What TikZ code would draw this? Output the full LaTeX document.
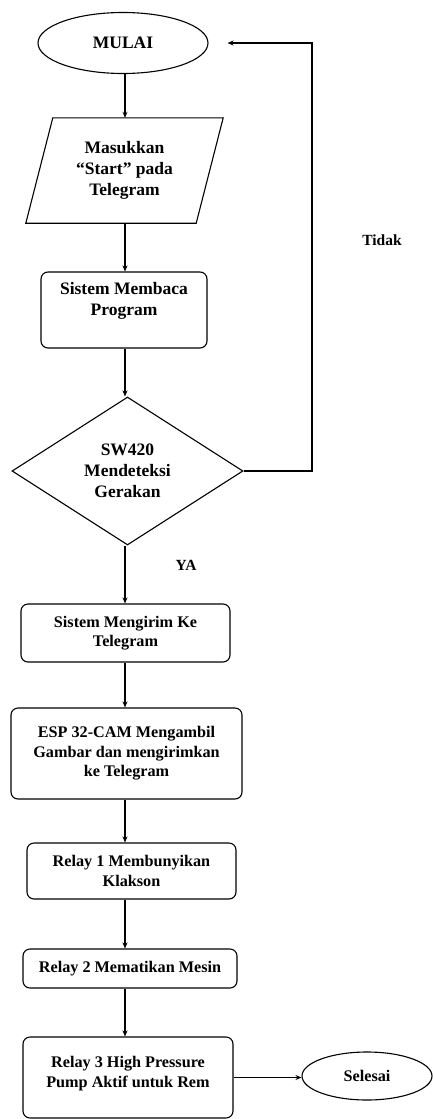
\documentclass[tikz,border=0pt]{standalone}
\usepackage{fontspec}
\setmainfont{Liberation Serif}
\usetikzlibrary{shapes.geometric,arrows.meta,calc}
\begin{document}
\begin{tikzpicture}[x=1pt,y=-1pt,
  lw/.style={line width=1.1pt},
  bigfont/.style={font=\bfseries\fontsize{17.5}{21}\selectfont},
  smallfont/.style={font=\bfseries\fontsize{16.2}{19.5}\selectfont},
  box/.style={draw, lw, rounded corners=7pt, align=center, inner sep=0pt},
  term/.style={draw, lw, ellipse, align=center, inner sep=0pt},
  decision/.style={draw, lw, diamond, align=center, inner sep=0pt},
  arr/.style={lw, -{Stealth[length=6pt,width=5pt]}},
  lab/.style={font=\bfseries\fontsize{15.5}{18}\selectfont, inner sep=0pt}
]
\useasboundingbox (0,0) rectangle (433,1119);
\coordinate (trunk) at (125,0);

\node[term, bigfont, minimum width=170pt, minimum height=61pt] (mulai) at (123,43) {MULAI};

\node[bigfont, align=center, inner sep=0pt, minimum width=170pt, minimum height=105pt] (inp) at (124.5,170.5)
  {Masukkan\\“Start” pada\\Telegram};
\draw[lw] ($(inp.north west)+(13.5,0)$) -- ($(inp.north east)+(13.5,0)$)
  -- ($(inp.south east)-(13.5,0)$) -- ($(inp.south west)-(13.5,0)$) -- cycle;

\node[box, bigfont, minimum width=166pt, minimum height=76pt] (baca) at (124,310)
  {Sistem Membaca\\Program\\[2pt]};

\node[decision, bigfont, minimum width=231pt, minimum height=148pt] (dec) at (127.5,471)
  {SW420\\Mendeteksi\\Gerakan};

\node[box, smallfont, minimum width=209pt, minimum height=58pt] (kirim) at (125.5,633)
  {Sistem Mengirim Ke\\Telegram};

\node[box, smallfont, minimum width=231pt, minimum height=91pt] (esp) at (126.5,753.5)
  {ESP 32-CAM Mengambil\\Gambar dan mengirimkan\\ke Telegram};

\node[box, smallfont, minimum width=209pt, minimum height=56pt] (r1) at (131.5,871)
  {Relay 1 Membunyikan\\Klakson};

\node[box, smallfont, minimum width=214pt, minimum height=39pt] (r2) at (130,968.5)
  {Relay 2 Mematikan Mesin};

\node[box, smallfont, minimum width=210pt, minimum height=81pt] (r3) at (128,1077.5)
  {Relay 3 High Pressure\\Pump Aktif untuk Rem\\[-8pt]};

\node[term, smallfont, minimum width=130pt, minimum height=48pt] (sel) at (367,1076) {Selesai};

\node[lab] (tidak) at (382,240) {Tidak};
\node[lab] (ya) at (186,565) {YA};

\draw[arr] (mulai.south -| trunk) -- (inp.north -| trunk);
\draw[arr] (inp.south -| trunk) -- (baca.north -| trunk);
\draw[arr] (baca.south -| trunk) -- (dec.north -| trunk);
\draw[arr] (dec.south -| trunk) -- (kirim.north -| trunk);
\draw[arr] (kirim.south -| trunk) -- (esp.north -| trunk);
\draw[arr] (esp.south -| trunk) -- (r1.north -| trunk);
\draw[arr] (r1.south -| trunk) -- (r2.north -| trunk);
\draw[arr] (r2.south -| trunk) -- (r3.north -| trunk);
\draw[arr] (r3.east) -- (r3.east -| sel.west);

\coordinate (corner) at (312,43);
\draw[arr, shorten >=19pt] (dec.east) -| (corner) -- (mulai.east);
\end{tikzpicture}
\end{document}
